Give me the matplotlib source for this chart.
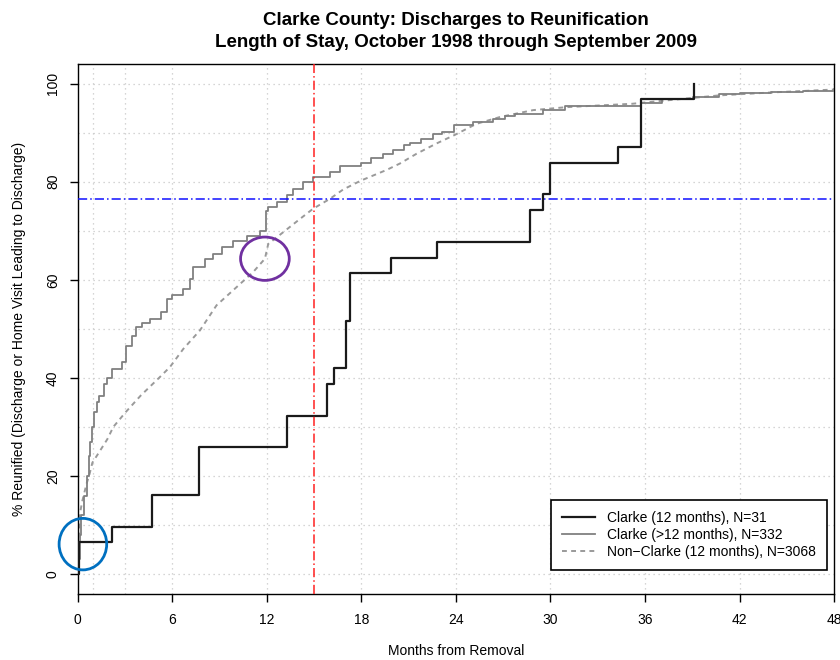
import matplotlib
matplotlib.use('Agg')
import matplotlib.pyplot as plt
from matplotlib.patches import Ellipse

plt.rcParams['font.family'] = ['Liberation Sans', 'DejaVu Sans']

# Clarke (12 months), N=31 -- step corners
clarke12_x = [0, 0.1, 2.2, 4.7, 7.7, 13.25, 15.83, 16.25, 17.0, 17.29, 19.85,
              22.83, 28.72, 29.52, 29.95, 34.3, 35.74, 39.08]
clarke12_y = [0, 6.45, 9.68, 16.13, 25.81, 32.26, 38.71, 41.94, 51.61, 61.29,
              64.52, 67.74, 74.19, 77.42, 83.87, 87.10, 96.77, 100]

# Clarke (>12 months), N=332
clarke_long_x = [0, 0.05, 0.12, 0.23, 0.4, 0.57, 0.7, 0.8, 0.89, 1.03, 1.2,
                 1.35, 1.67, 1.88, 2.2, 2.83, 3.04, 3.46, 3.68, 4.1, 4.58, 5.3,
                 5.64, 5.96, 6.7, 7.12, 7.33, 8.07, 8.6, 9.13, 9.87, 10.72,
                 11.56, 11.98, 12.09, 12.62, 13.25, 13.67, 14.3, 14.94, 16.0,
                 16.63, 17.95, 18.6, 19.4, 20.0, 20.7, 21.07, 21.8, 22.55, 23.1,
                 23.9, 25.09, 26.36, 27.1, 27.73, 29.52, 30.9, 35.74, 37.1,
                 39.04, 40.7, 42.0, 44.0, 46.0, 48.0]
clarke_long_y = [0, 3, 8, 12, 16, 20, 24, 27, 30, 33, 35, 36.4, 38.8, 40, 41.8,
                 43.2, 46.5, 48.6, 50.3, 51.2, 52.0, 53.4, 56.1, 56.8, 58.2,
                 60.2, 62.6, 64.3, 65.3, 66.7, 68.0, 69.0, 69.9, 74.1, 74.8,
                 75.9, 77.2, 78.6, 79.9, 81.0, 82.0, 83.2, 83.8, 84.8, 85.6,
                 86.4, 87.4, 87.8, 88.8, 89.8, 90.2, 91.5, 92.2, 92.7, 93.5,
                 93.9, 94.6, 95.4, 96.0, 96.8, 97.3, 97.8, 98.0, 98.3, 98.6,
                 98.9]

# Non-Clarke (12 months), N=3068
nonclarke_x = [0, 0.05, 0.12, 0.3, 0.57, 0.72, 0.93, 1.35, 1.88, 2.26, 3.04,
               4.0, 5.16, 5.85, 6.7, 7.76, 8.81, 10.08, 11.14, 11.88, 12.09,
               13.04, 14.1, 14.94, 16.0, 16.84, 17.95, 19.6, 20.44, 21.5,
               22.77, 23.9, 25.3, 26.8, 28.9, 31.0, 35.2, 37.1, 40.7, 44.0,
               48.0]
nonclarke_y = [0, 5, 12, 15, 18.5, 20, 22.7, 24.8, 27.5, 30, 33, 36.4, 40,
               42.2, 45.9, 49.7, 54.8, 58.5, 61.6, 64.3, 67.3, 69.7, 72.4,
               74.5, 76.5, 78.4, 80.2, 82.4, 83.7, 85.7, 87.8, 89.5, 91.8,
               93.2, 94.6, 95.2, 95.9, 96.5, 97.6, 98.2, 98.8]

labels = ['Clarke (12 months), N=31', 'Clarke (>12 months), N=332',
          'Non\u2212Clarke (12 months), N=3068']
x_ticks = [0, 6, 12, 18, 24, 30, 36, 42, 48]
y_ticks = [0, 20, 40, 60, 80, 100]
x_grid = [1, 3, 6, 12, 18, 24, 30, 36, 42]
y_grid = [0, 10, 20, 30, 40, 50, 60, 70, 80, 90, 100]
cutoff_month = 15
target_pct = 76.5

fig = plt.figure(figsize=(8.4, 6.6), dpi=100)
ax = fig.add_axes([0.0925, 0.1005, 0.9005, 0.8025])

for g in x_grid:
    ax.axvline(g, color='#c8c8c8', lw=0.9, ls=(0, (1, 3)), zorder=0)
for g in y_grid:
    ax.axhline(g, color='#c8c8c8', lw=0.9, ls=(0, (1, 3)), zorder=0)

ax.plot(nonclarke_x, nonclarke_y, color='#9a9a9a', lw=1.4, ls=(0, (2.5, 2.2)),
        label=labels[2], zorder=2)
ax.plot(clarke_long_x, clarke_long_y, color='#808080', lw=1.3,
        drawstyle='steps-post', label=labels[1], zorder=3)
ax.plot(clarke12_x, clarke12_y, color='#1a1a1a', lw=1.6,
        drawstyle='steps-post', label=labels[0], zorder=4)

ax.axvline(cutoff_month, color='#ff2020', lw=1.1, ls=(0, (6, 2, 1, 2)), zorder=5)
ax.axhline(target_pct, color='#1010ff', lw=1.1, ls=(0, (6, 2, 1, 2)), zorder=5)

# hand-drawn highlight circles
ax.add_patch(Ellipse((0.33, 6.1), 3.02, 10.5, fill=False, edgecolor='#0070c0',
                     lw=2, clip_on=False, zorder=6))
ax.add_patch(Ellipse((11.88, 64.3), 3.09, 8.84, fill=False, edgecolor='#7030a0',
                     lw=2, clip_on=False, zorder=6))

ax.set_xlim(0, 48)
ax.set_ylim(-4, 104)
ax.set_xticks(x_ticks)
ax.set_yticks(y_ticks)
ax.set_yticklabels([str(v) for v in y_ticks], rotation=90, va='center')
ax.tick_params(axis='both', direction='out', length=5.8, width=1, labelsize=10)
ax.tick_params(axis='x', pad=8)
ax.tick_params(axis='y', pad=7)
for s in ax.spines.values():
    s.set_linewidth(1)

ax.set_xlabel('Months from Removal', fontsize=10, labelpad=12)
ax.set_ylabel('% Reunified (Discharge or Home Visit Leading to Discharge)',
              fontsize=10, labelpad=14)
ax.set_title('Clarke County: Discharges to Reunification\n'
             'Length of Stay, October 1998 through September 2009',
             fontsize=13.5, fontweight='bold', pad=12, linespacing=1.45)

h, l = ax.get_legend_handles_labels()
order = [2, 1, 0]
leg = ax.legend([h[i] for i in order], [l[i] for i in order],
                loc='lower right', bbox_to_anchor=(0.99, 0.0447),
                borderaxespad=0, fontsize=10, fancybox=False, framealpha=1,
                edgecolor='black', labelspacing=0.2, handlelength=2.4,
                borderpad=0.8)
leg.get_frame().set_linewidth(1.2)

plt.savefig('out.png', dpi=100)
